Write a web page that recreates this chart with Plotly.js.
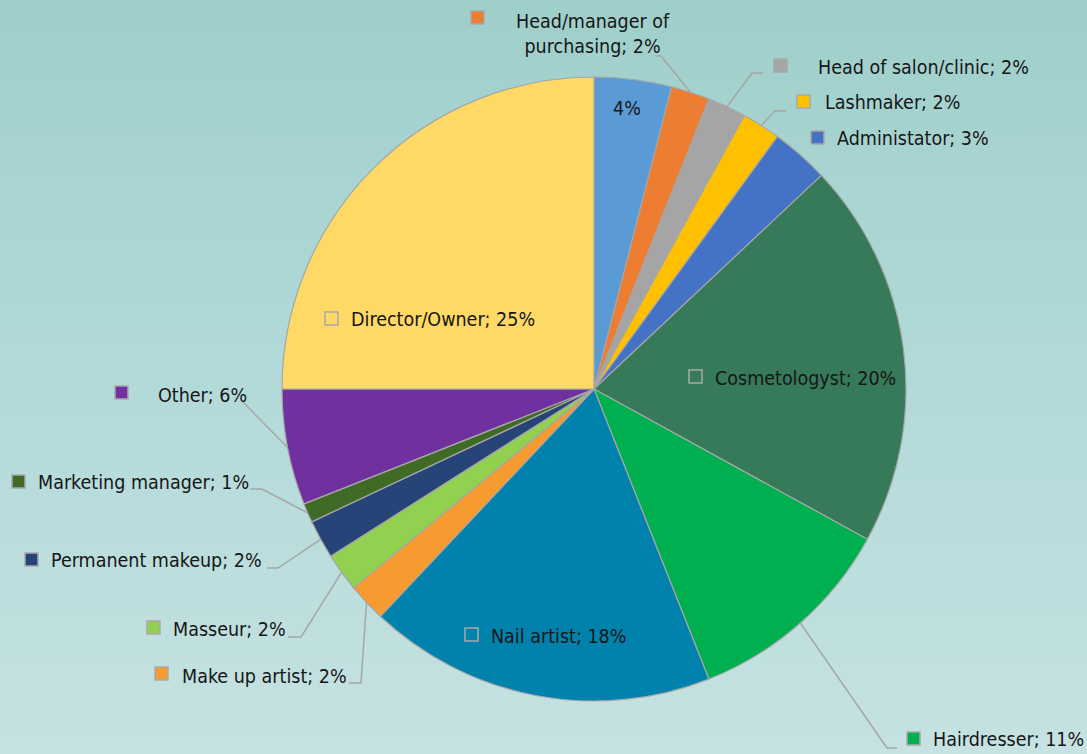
<!DOCTYPE html>
<html>
<head>
<meta charset="utf-8">
<script src="https://cdn.plot.ly/plotly-3.0.1.min.js"></script>
<style>
  html, body { margin: 0; padding: 0; }
  body { width: 1087px; height: 754px; overflow: hidden;
         background: linear-gradient(to bottom, #9fcfca 0%, #b0d9d8 45%, #c6e2e2 100%); }
  #chart { width: 1087px; height: 754px; }
</style>
</head>
<body>
<div id="chart"></div>
<script>
// ---- data ----
const categories = ["", "Head/manager of purchasing", "Head of salon/clinic", "Lashmaker", "Administator",
  "Cosmetologyst", "Hairdresser", "Nail artist", "Make up artist", "Masseur", "Permanent makeup",
  "Marketing manager", "Other", "Director/Owner"];
const values = [4, 2, 2, 2, 3, 20, 11, 18, 2, 2, 2, 1, 6, 25];
const sliceColors = ["#5b9bd5", "#ed7d31", "#a5a5a5", "#ffc000", "#4472c4", "#367a5a", "#00b050",
  "#0082ad", "#f79a2f", "#92d050", "#264478", "#3f6b27", "#7030a0", "#ffd966"];

// ---- layout helpers (label placement only) ----
const W = 1087, H = 754;
const CX = 594, CY = 389, R = 312;
const px = x => x / W, py = y => 1 - y / H;
const FONT = '"Liberation Sans Narrow", "DejaVu Sans Condensed", "Roboto Condensed", "Liberation Sans", sans-serif';
const FSIZE = 19.5;

// label placement per slice: square top-left, text start, text centre y, elbow points (label side), hollow key
const labelCfg = [
  { text: "4%", tx: 627, ty: 108, anchor: "center", noKey: true },
  { text: "Head/manager of<br>purchasing; 2%", sq: [471, 11], tx: 593, ty: 34, anchor: "center", elbow: [[655, 56], [661, 56]] },
  { sq: [774, 59], tx: 817, ty: 67, elbow: [[763, 73], [752, 73]] },
  { sq: [797, 95], tx: 824, ty: 102, elbow: [[786, 111], [775, 111]] },
  { sq: [811, 131], tx: 836, ty: 139 },
  { sq: [689, 370], tx: 714, ty: 378, hollow: true },
  { sq: [907, 732], tx: 932, ty: 739, elbow: [[897, 748], [887, 748]] },
  { sq: [465, 628], tx: 490, ty: 636, hollow: true },
  { sq: [155, 667], tx: 181, ty: 676, elbow: [[349, 683], [361, 683]] },
  { sq: [147, 621], tx: 172, ty: 629, elbow: [[288, 637], [301, 637]] },
  { sq: [25, 553], tx: 50, ty: 560, elbow: [[267, 568], [278, 568]] },
  { sq: [12, 475], tx: 37, ty: 482, elbow: [[250, 489], [262, 489]] },
  { sq: [115, 386], tx: 157, ty: 395, elbow: [[243, 402]] },
  { sq: [325, 312], tx: 350, ty: 319, hollow: true }
];

const total = values.reduce((a, b) => a + b, 0);
const annotations = [];
const shapes = [];
let cum = 0;
values.forEach((v, i) => {
  const mid = (cum + v / 2) / total;
  cum += v;
  const cfg = labelCfg[i];
  const pct = Math.round(v / total * 100) + "%";
  const txt = cfg.text || (categories[i] + "; " + pct);
  annotations.push({
    x: px(cfg.tx), y: py(cfg.ty), xref: "paper", yref: "paper",
    xanchor: cfg.anchor || "left", yanchor: "middle", showarrow: false,
    text: txt, align: "center", borderpad: 0,
    font: { family: FONT, size: FSIZE, color: "#161616" }
  });
  if (!cfg.noKey) {
    shapes.push({
      type: "rect", xref: "paper", yref: "paper",
      x0: px(cfg.sq[0]), x1: px(cfg.sq[0] + 13), y0: py(cfg.sq[1] + 13), y1: py(cfg.sq[1]),
      fillcolor: cfg.hollow ? "rgba(0,0,0,0)" : sliceColors[i],
      line: { color: "#a9a9a9", width: 1.5 }, layer: "above"
    });
  }
  if (cfg.elbow) {
    const ang = mid * 2 * Math.PI;
    const ex = CX + R * Math.sin(ang), ey = CY - R * Math.cos(ang);
    const pts = cfg.elbow.concat([[ex, ey]]);
    const path = pts.map((p, k) => (k ? "L" : "M") + px(p[0]) + "," + py(p[1])).join(" ");
    shapes.push({ type: "path", xref: "paper", yref: "paper", path: path,
      line: { color: "#a6a6a6", width: 1.5 }, layer: "above" });
  }
});

const trace = {
  type: "pie",
  labels: categories.map((c, i) => c || "Unnamed"),
  values: values,
  sort: false,
  direction: "clockwise",
  rotation: 0,
  marker: { colors: sliceColors, line: { color: "#a6a6a6", width: 1.2 } },
  textinfo: "none",
  hoverinfo: "label+percent",
  showlegend: false,
  domain: { x: [px(CX - R), px(CX + R)], y: [py(CY + R), py(CY - R)] }
};

const layout = {
  width: W, height: H,
  margin: { l: 0, r: 0, t: 0, b: 0 },
  paper_bgcolor: "rgba(0,0,0,0)",
  plot_bgcolor: "rgba(0,0,0,0)",
  showlegend: false,
  annotations: annotations,
  shapes: shapes
};

Plotly.newPlot("chart", [trace], layout, { displayModeBar: false, staticPlot: true });
</script>
</body>
</html>
